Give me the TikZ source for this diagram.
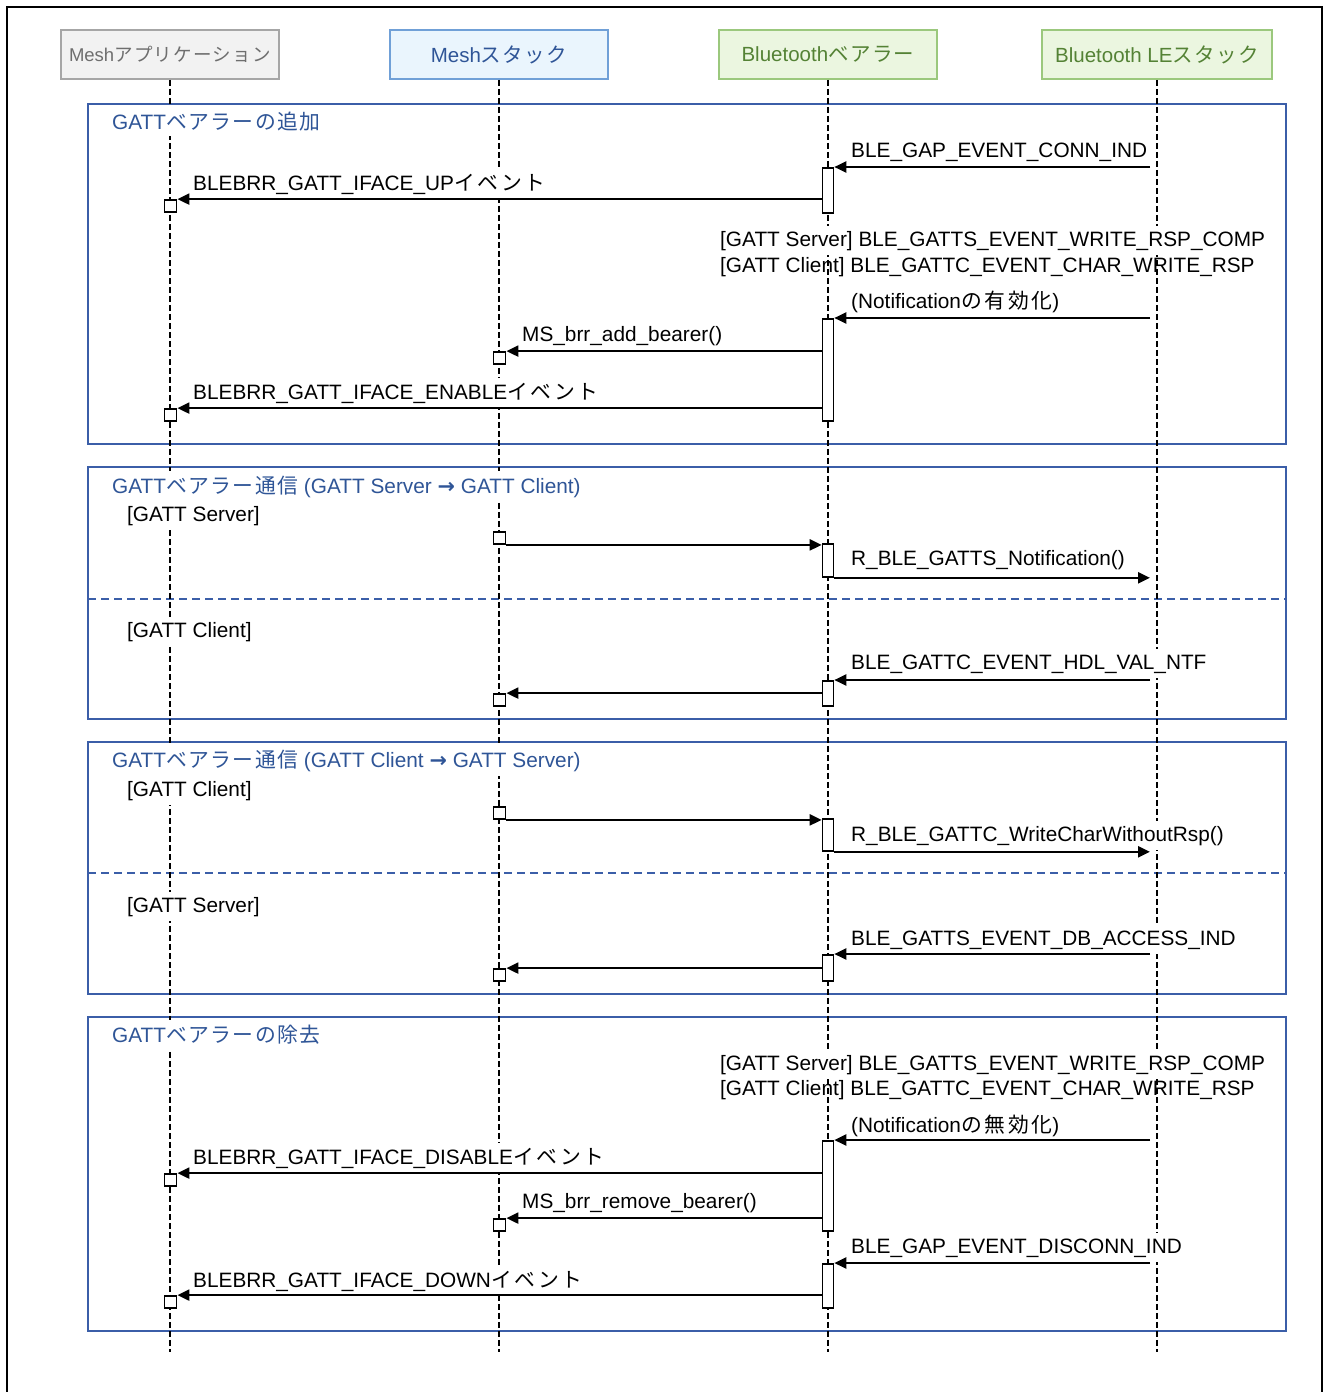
\documentclass[tikz,border=0pt]{standalone}
\usepackage{fontspec}
\setmainfont{Liberation Sans}
\newfontfamily\jpfont[LetterSpace=13]{Noto Sans CJK JP}
\newfontfamily\jph[LetterSpace=7]{Noto Sans CJK JP}
\newfontfamily\arrowfont{DejaVu Sans}
\newcommand{\J}[1]{{\jpfont #1}}
\newcommand{\JH}[1]{{\jph #1}}
\newcommand{\lblfont}{\fontsize{20.8}{24}\selectfont}
\newcommand{\hdrfont}{\fontsize{20.5}{24}\selectfont}
\newcommand{\smallhdrfont}{\fontsize{18.5}{22}\selectfont}
\usetikzlibrary{arrows.meta}
\definecolor{frameblue}{RGB}{59,94,168}
\definecolor{titleblue}{RGB}{47,85,151}
\definecolor{hgrayfill}{RGB}{242,242,242}
\definecolor{hgrayline}{RGB}{166,166,166}
\definecolor{hgraytext}{RGB}{110,110,110}
\definecolor{hbluefill}{RGB}{234,245,253}
\definecolor{hblueline}{RGB}{112,160,215}
\definecolor{hbluetext}{RGB}{47,85,151}
\definecolor{hgreenfill}{RGB}{235,246,224}
\definecolor{hgreenline}{RGB}{155,200,125}
\definecolor{hgreentext}{RGB}{84,130,53}
\tikzset{
  hdr/.style={draw, line width=1.5pt, minimum width=218pt, minimum height=49pt, inner sep=0pt, font=\hdrfont},
  frm/.style={draw=frameblue, line width=2pt},
  divider/.style={draw=frameblue, line width=2pt, dash pattern=on 8pt off 5pt},
  lbl/.style={anchor=base west, inner xsep=2pt, inner ysep=5pt, fill=white, font=\lblfont},
  lblnf/.style={anchor=base west, inner xsep=2pt, inner ysep=5pt, font=\lblfont},
  ttl/.style={lbl, text=titleblue},
  msg/.style={line width=2.2pt, -{Triangle[length=12pt,width=11pt]}},
  act/.style={draw, line width=1.6pt, fill=white, minimum width=11pt, inner sep=0pt},
  sq/.style={draw, line width=1.8pt, fill=white, minimum size=12pt, inner sep=0pt},
  life/.style={line width=1.5pt, dash pattern=on 6pt off 3pt}
}
\begin{document}
\begin{tikzpicture}[x=1pt,y=-1pt]
\useasboundingbox (0,0) rectangle (1324,1392);
\fill[white] (0,0) rectangle (1324,1392);
% outer frame
\draw[line width=2pt] (7,1400) -- (7,7) -- (1322,7) -- (1322,1400);

% headers
\node[hdr, fill=hgrayfill, draw=hgrayline, text=hgraytext, font=\smallhdrfont] (h1) at (170,54.5) {Mesh\JH{アプリケーション}};
\node[hdr, fill=hbluefill, draw=hblueline, text=hbluetext] (h2) at (499,54.5) {Mesh\JH{スタック}};
\node[hdr, fill=hgreenfill, draw=hgreenline, text=hgreentext] (h3) at (828,54.5) {Bluetooth\JH{ベアラー}};
\node[hdr, fill=hgreenfill, draw=hgreenline, text=hgreentext, minimum width=230pt] (h4) at (1157,54.5) {Bluetooth LE\JH{スタック}};

% frames
\draw[frm] (88,104) rectangle (1286,444);
\draw[frm] (88,467) rectangle (1286,719);
\draw[divider] (88,599) -- (1286,599);
\draw[frm] (88,742) rectangle (1286,994);
\draw[divider] (88,873) -- (1286,873);
\draw[frm] (88,1017) rectangle (1286,1331);

% lifelines
\coordinate (e1) at (170,1352);
\coordinate (e2) at (499,1352);
\coordinate (e3) at (828,1352);
\coordinate (e4) at (1157,1352);
\draw[life] (h1.south) -- (e1);
\draw[life] (h2.south) -- (e2);
\draw[life] (h3.south) -- (e3);
\draw[life] (h4.south) -- (e4);

% frame titles and section labels
\node[ttl] (t1) at (110,129) {GATT\JH{ベアラーの追加}};
\node[ttl] (t2) at (110,493) {GATT\JH{ベアラー通信} (GATT Server {\arrowfont\bfseries →} GATT Client)};
\node[lbl] (s1) at (125,521) {[GATT Server]};
\node[lbl] (s2) at (125,637) {[GATT Client]};
\node[ttl] (t3) at (110,767) {GATT\JH{ベアラー通信} (GATT Client {\arrowfont\bfseries →} GATT Server)};
\node[lbl] (s3) at (125,796) {[GATT Client]};
\node[lbl] (s4) at (125,912) {[GATT Server]};
\node[ttl] (t4) at (110,1042) {GATT\JH{ベアラーの除去}};

% message labels
\node[lbl] (l1) at (849,157) {BLE\_GAP\_EVENT\_CONN\_IND};
\node[lbl] (l2) at (191,190) {BLEBRR\_GATT\_IFACE\_UP\J{イベント}};
\node[lbl] (l3a) at (718,246) {[GATT Server] BLE\_GATTS\_EVENT\_WRITE\_RSP\_COMP};
\node[lblnf] (l3b) at (718,272) {[GATT Client] BLE\_GATTC\_EVENT\_CHAR\_WRITE\_RSP};
\node[lbl] (l4) at (849,308) {(Notification\J{の有効化})};
\node[lbl] (l5) at (520,341) {MS\_brr\_add\_bearer()};
\node[lbl] (l6) at (191,399) {BLEBRR\_GATT\_IFACE\_ENABLE\J{イベント}};
\node[lbl] (l7) at (849,565) {R\_BLE\_GATTS\_Notification()};
\node[lbl] (l8) at (849,669) {BLE\_GATTC\_EVENT\_HDL\_VAL\_NTF};
\node[lbl] (l9) at (849,841) {R\_BLE\_GATTC\_WriteCharWithoutRsp()};
\node[lbl] (l10) at (849,945) {BLE\_GATTS\_EVENT\_DB\_ACCESS\_IND};
\node[lbl] (l11a) at (718,1070) {[GATT Server] BLE\_GATTS\_EVENT\_WRITE\_RSP\_COMP};
\node[lblnf] (l11b) at (718,1095) {[GATT Client] BLE\_GATTC\_EVENT\_CHAR\_WRITE\_RSP};
\node[lbl] (l12) at (849,1132) {(Notification\J{の無効化})};
\node[lbl] (l13) at (191,1164) {BLEBRR\_GATT\_IFACE\_DISABLE\J{イベント}};
\node[lbl] (l14) at (520,1208) {MS\_brr\_remove\_bearer()};
\node[lbl] (l15) at (849,1253) {BLE\_GAP\_EVENT\_DISCONN\_IND};
\node[lbl] (l16) at (191,1287) {BLEBRR\_GATT\_IFACE\_DOWN\J{イベント}};

% activation boxes and squares
\node[act, minimum height=45pt] (a1) at (828,190.5) {};
\node[act, minimum height=102pt] (a2) at (828,370) {};
\node[act, minimum height=33pt] (a3) at (828,560.5) {};
\node[act, minimum height=25pt] (a4) at (828,693.5) {};
\node[act, minimum height=32pt] (a5) at (828,835) {};
\node[act, minimum height=26pt] (a6) at (828,968) {};
\node[act, minimum height=90pt] (a7) at (828,1186) {};
\node[act, minimum height=44pt] (a8) at (828,1286) {};

\node[sq] (q1) at (170.5,206) {};
\node[sq] (q2) at (499.5,358) {};
\node[sq] (q3) at (170.5,415) {};
\node[sq] (q4) at (499.5,538) {};
\node[sq] (q5) at (499.5,700) {};
\node[sq] (q6) at (499.5,813) {};
\node[sq] (q7) at (499.5,975) {};
\node[sq] (q8) at (170.5,1180) {};
\node[sq] (q9) at (499.5,1225) {};
\node[sq] (q10) at (170.5,1302) {};

% free ends at BLE stack
\coordinate (b1) at (1150,167);
\coordinate (b2) at (1150,318);
\coordinate (b3) at (1150,577);
\coordinate (b4) at (1150,680);
\coordinate (b5) at (1150,851);
\coordinate (b6) at (1150,954);
\coordinate (b7) at (1150,1140);
\coordinate (b8) at (1150,1263);

% messages
\draw[msg] (b1) -- (a1.north east |- b1);
\draw[msg] (a1.west |- q1.north) -- (q1.north east);
\draw[msg] (b2) -- (a2.north east |- b2);
\draw[msg] (a2.west |- q2.north) -- (q2.north east);
\draw[msg] (a2.west |- q3.north) -- (q3.north east);

\draw[msg] (q4.south east) -- (q4.south east -| a3.west);
\draw[msg] (a3.south east) -- (a3.south east -| b3);
\draw[msg] (b4) -- (a4.north east |- b4);
\draw[msg] (a4.west |- q5.north) -- (q5.north east);

\draw[msg] (q6.south east) -- (q6.south east -| a5.west);
\draw[msg] (a5.south east) -- (a5.south east -| b5);
\draw[msg] (b6) -- (a6.north east |- b6);
\draw[msg] (a6.west |- q7.north) -- (q7.north east);

\draw[msg] (b7) -- (a7.north east |- b7);
\draw[msg] (a7.west |- q8.north) -- (q8.north east);
\draw[msg] (a7.west |- q9.north) -- (q9.north east);
\draw[msg] (b8) -- (a8.north east |- b8);
\draw[msg] (a8.west |- q10.north) -- (q10.north east);
\end{tikzpicture}
\end{document}
